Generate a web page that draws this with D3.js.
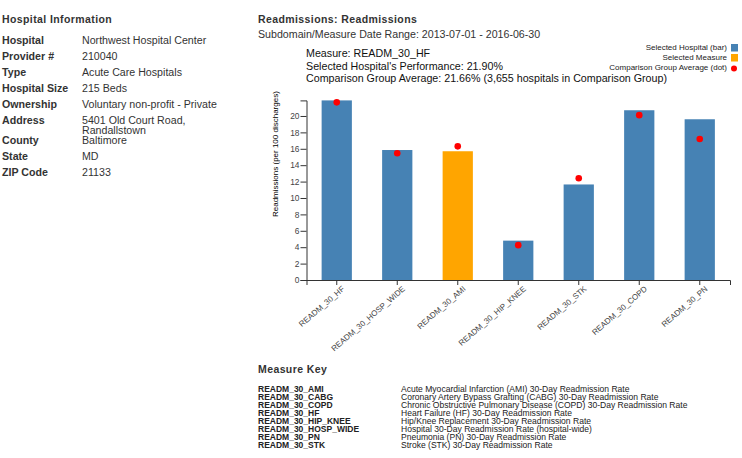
<!DOCTYPE html>
<meta charset="utf-8">
<style>
  body { margin: 0; background: #fff; }
  svg { display: block; }
  text { font-family: "Liberation Sans", Arial, sans-serif; fill: #333; }
  .head { font-size: 10.5px; font-weight: bold; letter-spacing: 0.4px; }
  .info { font-size: 10.65px; }
  .key { font-size: 8.55px; fill: #222; }
  .note { font-size: 10.7px; fill: #111; }
  .legend text { font-size: 8px; fill: #222; }
  .axis text { font-size: 8px; fill: #444; font-family: "Liberation Sans", Arial, sans-serif; }
  .axis path, .axis line { stroke: #333; fill: none; }
</style>
<svg width="742" height="458"></svg>
<script src="https://d3js.org/d3.v7.min.js"></script>
<script>
var measures = ["READM_30_HF", "READM_30_HOSP_WIDE", "READM_30_AMI", "READM_30_HIP_KNEE", "READM_30_STK", "READM_30_COPD", "READM_30_PN"];
var hospitalValues = [21.9, 15.85, 15.7, 4.8, 11.65, 20.7, 19.6];
var groupAverages = [21.66, 15.45, 16.3, 4.25, 12.4, 20.1, 17.2];
var selectedMeasure = "READM_30_AMI";
var yTicks = [0, 2, 4, 6, 8, 10, 12, 14, 16, 18, 20];

var infoLabels = ["Hospital", "Provider #", "Type", "Hospital Size", "Ownership", "Address", "", "County", "State", "ZIP Code"];
var infoValues = ["Northwest Hospital Center", "210040", "Acute Care Hospitals", "215 Beds", "Voluntary non-profit - Private", "5401 Old Court Road,", "Randallstown", "Baltimore", "MD", "21133"];
var infoRows = [44, 60, 76, 92, 108, 124, 134, 144, 160, 176];

var keyCodes = ["READM_30_AMI", "READM_30_CABG", "READM_30_COPD", "READM_30_HF", "READM_30_HIP_KNEE", "READM_30_HOSP_WIDE", "READM_30_PN", "READM_30_STK"];
var keyNames = [
  "Acute Myocardial Infarction (AMI) 30-Day Readmission Rate",
  "Coronary Artery Bypass Grafting (CABG) 30-Day Readmission Rate",
  "Chronic Obstructive Pulmonary Disease (COPD) 30-Day Readmission Rate",
  "Heart Failure (HF) 30-Day Readmission Rate",
  "Hip/Knee Replacement 30-Day Readmission Rate",
  "Hospital 30-Day Readmission Rate (hospital-wide)",
  "Pneumonia (PN) 30-Day Readmission Rate",
  "Stroke (STK) 30-Day Readmission Rate"
];

var noteLines = ["Measure: READM_30_HF", "Selected Hospital's Performance: 21.90%", "Comparison Group Average: 21.66% (3,655 hospitals in Comparison Group)"];
var legendLabels = ["Selected Hospital (bar)", "Selected Measure", "Comparison Group Average (dot)"];

var svg = d3.select("svg");

function addText(x, y, str, cls) {
  return svg.append("text").attr("x", x).attr("y", y).attr("class", cls).text(str);
}

// left column
addText(2, 23, "Hospital Information", "head");
svg.selectAll(".lab").data(infoLabels).enter().append("text")
   .attr("class", "info lab").attr("x", 2)
   .attr("y", (d, i) => infoRows[i])
   .style("font-weight", "bold")
   .text(d => d);
svg.selectAll(".val").data(infoValues).enter().append("text")
   .attr("class", "info val").attr("x", 82)
   .attr("y", (d, i) => infoRows[i])
   .text(d => d);

// chart headings
addText(258, 23, "Readmissions: Readmissions", "head");
addText(258, 38, "Subdomain/Measure Date Range: 2013-07-01 - 2016-06-30", "info");
noteLines.forEach((d, i) => addText(306, 57 + i * 12.5, d, "note"));

// legend
var legend = svg.append("g").attr("class", "legend");
var legendColors = ["steelblue", "orange"];
legendLabels.forEach(function(d, i) {
  var y = 47 + i * 10;
  legend.append("text").attr("x", 727).attr("y", y + 3).attr("text-anchor", "end").text(d);
  if (i < 2) legend.append("rect").attr("x", 731).attr("y", y - 3).attr("width", 7).attr("height", 7.5).attr("fill", legendColors[i]);
  else legend.append("circle").attr("cx", 734).attr("cy", y + 1.5).attr("r", 3).attr("fill", "red");
});

// chart
var x = d3.scaleBand().domain(measures).range([306.5, 730]).paddingInner(0.5).paddingOuter(0.25);
var y = d3.scaleLinear().domain([0, 21.9]).range([280, 100.4]);

svg.selectAll(".bar").data(measures).enter().append("rect")
   .attr("class", "bar")
   .attr("x", d => x(d))
   .attr("width", x.bandwidth())
   .attr("y", (d, i) => y(hospitalValues[i]))
   .attr("height", (d, i) => 280 - y(hospitalValues[i]))
   .attr("fill", d => d == selectedMeasure ? "orange" : "steelblue");

svg.selectAll(".dot").data(measures).enter().append("circle")
   .attr("class", "dot")
   .attr("cx", d => x(d) + x.bandwidth() / 2)
   .attr("cy", (d, i) => y(groupAverages[i]))
   .attr("r", 3.3)
   .attr("fill", "red");

var xAxis = svg.append("g").attr("class", "axis").attr("transform", "translate(0,280)")
   .call(d3.axisBottom(x).tickSize(5));
xAxis.selectAll("text")
   .attr("text-anchor", "end")
   .attr("transform", "rotate(-41)")
   .attr("dx", "0em")
   .attr("dy", "0.6em");

var yAxis = svg.append("g").attr("class", "axis").attr("transform", "translate(306.5,0)")
   .call(d3.axisLeft(y).tickValues(yTicks).tickSize(6).tickPadding(1));
yAxis.selectAll("text").style("font-size", "8.4px");

svg.append("text")
   .attr("transform", "translate(278,217) rotate(-90)")
   .style("font-size", "8px").style("fill", "#000")
   .text("Readmissions (per 100 discharges)");

// measure key
addText(258, 373, "Measure Key", "head");
keyCodes.forEach(function(d, i) {
  addText(258, 392 + i * 8, d, "key").style("font-weight", "bold").style("font-size", "8.5px");
  addText(401, 392 + i * 8, keyNames[i], "key");
});
</script>
